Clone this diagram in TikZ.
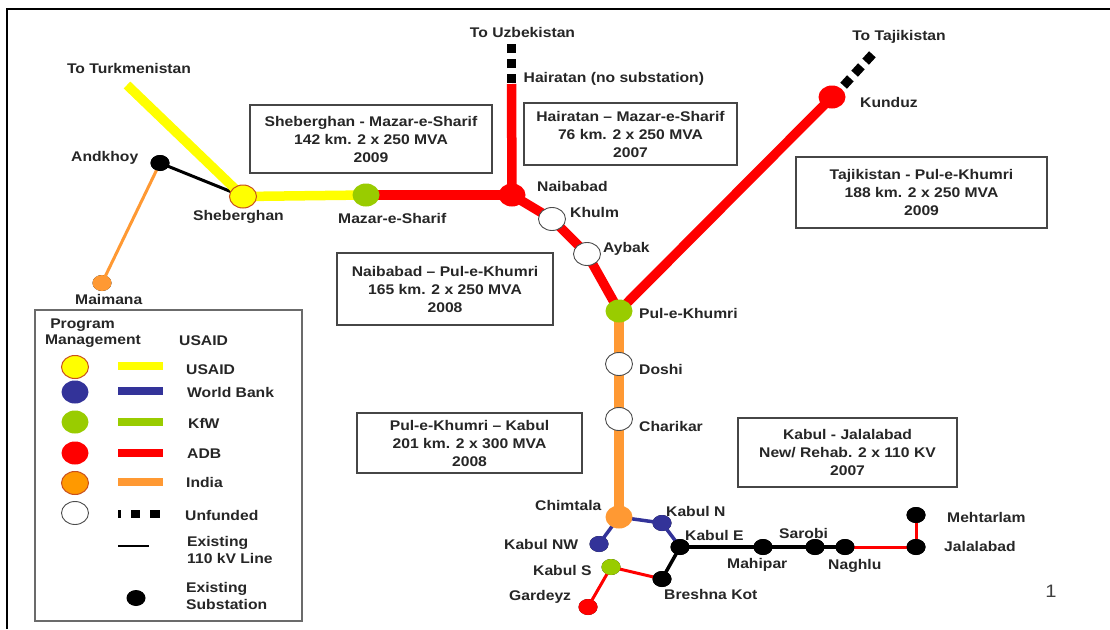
\documentclass[tikz,border=0pt]{standalone}
\usepackage{fontspec}
\setmainfont[FakeStretch=1.12]{Liberation Sans}
\definecolor{cyel}{RGB}{255,255,0}
\definecolor{cred}{RGB}{255,0,0}
\definecolor{cgrn}{RGB}{153,204,0}
\definecolor{cora}{RGB}{255,153,51}
\definecolor{corb}{RGB}{255,153,0}
\definecolor{cblu}{RGB}{51,51,153}
\definecolor{cedge}{RGB}{200,80,30}
\definecolor{cbox}{RGB}{70,70,70}
\usetikzlibrary{shapes.geometric}
\tikzset{
 lab/.style={font=\fontsize{14}{15}\selectfont\bfseries, text=black!85, inner sep=0pt},
 boxed/.style={draw=cbox, line width=1.3pt, fill=white, align=center, inner sep=0pt, font=\fontsize{14}{18}\selectfont\bfseries, text=black!85},
 station/.style={ellipse, inner sep=0pt, minimum width=27pt, minimum height=23pt},
 bl/.style={ellipse, fill=black, inner sep=0pt, minimum width=19pt, minimum height=16pt},
 wht/.style={station, draw=black!70, line width=.9pt, fill=white},
 trunk/.style={line width=9.5pt},
 mid/.style={line width=3.5pt},
 leg/.style={line width=8pt},
}
\begin{document}
\begin{tikzpicture}[x=1pt,y=-1pt]
\useasboundingbox (0,0) rectangle (1110,629);
\fill[white] (0,0) rectangle (1110,629);
\coordinate (fa) at (7,629); \coordinate (fb) at (7,9); \coordinate (fc) at (1110,9);
\draw[line width=2.5pt, black] (fa) -- (fb) -- (fc);

% boxes
\node[boxed, minimum width=242pt, minimum height=68pt] (b1) at (371,139) {Sheberghan - Mazar-e-Sharif\\142 km. 2 x 250 MVA\\2009};
\node[boxed, minimum width=213pt, minimum height=62pt] (b2) at (630.5,134) {Hairatan – Mazar-e-Sharif\\76 km. 2 x 250 MVA\\2007};
\node[boxed, minimum width=251pt, minimum height=71pt] (b3) at (921.5,192.5) {Tajikistan - Pul-e-Khumri\\188 km. 2 x 250 MVA\\2009};
\node[boxed, minimum width=216pt, minimum height=72pt] (b4) at (445,289) {Naibabad – Pul-e-Khumri\\165 km. 2 x 250 MVA\\2008};
\node[boxed, minimum width=225pt, minimum height=60pt] (b5) at (469.5,443) {Pul-e-Khumri – Kabul\\201 km. 2 x 300 MVA\\2008};
\node[boxed, minimum width=219pt, minimum height=69pt] (b6) at (847.5,452.5) {Kabul - Jalalabad\\New/ Rehab. 2 x 110 KV\\2007};

% named points
\coordinate (turk) at (127,85);
\coordinate (hair) at (511.5,84);
\coordinate (uza) at (511.5,83);
\coordinate (uzb) at (511.5,44);
\coordinate (taa) at (843.6,85.7);
\coordinate (tab) at (872.4,54.3);
\node[station] (sheb) at (243,196.5) {};
\node[station] (maz) at (366,195) {};
\node[station] (naib) at (512,195) {};
\node[station] (khulm) at (552,219) {};
\node[station] (aybak) at (587,254) {};
\node[station] (pul) at (619,311) {};
\node[station] (kun) at (832,97) {};
\node[station] (doshi) at (619,364) {};
\node[station] (chari) at (619,419) {};
\node[station] (chim) at (619,517) {};
\node[bl] (knw) at (599,544) {};
\node[bl] (kn) at (662,523) {};
\node[bl] (ke) at (680,547) {};
\node[bl] (bk) at (662,579) {};
\node[bl] (ks) at (611,567) {};
\node[bl] (gar) at (588,607) {};
\node[bl] (mah) at (763,547) {};
\node[bl] (sar) at (815,547) {};
\node[bl] (nag) at (845,547) {};
\node[bl] (jal) at (916,547) {};
\node[bl] (meh) at (916,515) {};
\node[bl] (and) at (160,163) {};
\node[bl] (mai) at (102,283) {};

% lines
\draw[cora, line width=3pt] (and.center) -- (mai.center);
\draw[black, line width=3pt] (and.center) -- (sheb.center);
\draw[trunk, cyel] (turk) -- (sheb.center);
\draw[trunk, cyel] (sheb.center) -- (maz.center);
\draw[trunk, cred] (maz.center) -- (naib.center);
\draw[trunk, cred] (hair) -- (naib.center);
\draw[trunk, cred] (naib.center) -- (khulm.center);
\draw[trunk, cred] (khulm.center) -- (aybak.center);
\draw[trunk, cred] (aybak.center) -- (pul.center);
\draw[trunk, cred] (pul.center) -- (kun.center);
\draw[trunk, cora] (pul.center) -- (doshi.center);
\draw[trunk, cora] (doshi.center) -- (chari.center);
\draw[trunk, cora] (chari.center) -- (chim.center);
\draw[line width=9.5pt, black, dash pattern=on 9pt off 6pt] (uza) -- (uzb);
\draw[line width=9pt, black, dash pattern=on 10pt off 6.3pt] (taa) -- (tab);
\draw[mid, cblu] (chim.center) -- (kn.center);
\draw[mid, cblu] (chim.center) -- (knw.center);
\draw[mid, cblu] (kn.center) -- (ke.center);
\draw[mid, black] (ke.center) -- (mah.center) -- (sar.center) -- (nag.center);
\draw[mid, black] (ke.center) -- (bk.center);
\draw[cred, line width=3pt] (nag.center) -- (jal.center);
\draw[cred, line width=3pt] (jal.center) -- (meh.center);
\draw[cred, line width=3pt] (bk.center) -- (ks.center);
\draw[cred, line width=3pt] (ks.center) -- (gar.center);

% station fills
\node[station, fill=cyel, draw=cedge, line width=1pt] at (sheb) {};
\node[station, fill=cgrn] at (maz) {};
\node[station, fill=cred] at (naib) {};
\node[wht] at (khulm) {};
\node[wht] at (aybak) {};
\node[station, fill=cgrn] at (pul) {};
\node[station, fill=cred] at (kun) {};
\node[wht] at (doshi) {};
\node[wht] at (chari) {};
\node[station, fill=cora] at (chim) {};
\node[bl, fill=cblu] at (knw) {};
\node[bl, fill=cblu] at (kn) {};
\node[bl] at (ke) {};
\node[bl] at (bk) {};
\node[bl, fill=cgrn] at (ks) {};
\node[bl, fill=cred] at (gar) {};
\node[bl] at (mah) {};
\node[bl] at (sar) {};
\node[bl] at (nag) {};
\node[bl] at (jal) {};
\node[bl] at (meh) {};
\node[bl] at (and) {};
\node[bl, fill=cora] at (mai) {};

% map labels
\node[lab] (t1) at (129,68) {To Turkmenistan};
\node[lab] (t2) at (522.5,32) {To Uzbekistan};
\node[lab] (t3) at (899,37) {To Tajikistan};
\node[lab, anchor=west] (t4) at (523.5,79) {Hairatan (no substation)};
\node[lab, anchor=west] (t5) at (860,102) {Kunduz};
\node[lab, anchor=west] (t6) at (71,158) {Andkhoy};
\node[lab, anchor=west] (t7) at (193,217) {Sheberghan};
\node[lab, anchor=west] (t8) at (338,218) {Mazar-e-Sharif};
\node[lab, anchor=west] (t9) at (537,186) {Naibabad};
\node[lab, anchor=west] (t10) at (570,212) {Khulm};
\node[lab, anchor=west] (t11) at (603,249) {Aybak};
\node[lab, anchor=west] (t12) at (639,313) {Pul-e-Khumri};
\node[lab, anchor=west] (t13) at (639,369) {Doshi};
\node[lab, anchor=west] (t14) at (639,426) {Charikar};
\node[lab, anchor=west] (t15) at (75,299) {Maimana};
\node[lab, anchor=west] (t16) at (535,505) {Chimtala};
\node[lab, anchor=west] (t17) at (666,511) {Kabul N};
\node[lab, anchor=west] (t18) at (685,535) {Kabul E};
\node[lab, anchor=west] (t19) at (504,544) {Kabul NW};
\node[lab, anchor=west] (t20) at (533,570) {Kabul S};
\node[lab, anchor=west] (t21) at (509,597) {Gardeyz};
\node[lab, anchor=west] (t22) at (664,594) {Breshna Kot};
\node[lab, anchor=west] (t23) at (727,565) {Mahipar};
\node[lab, anchor=west] (t24) at (779,533) {Sarobi};
\node[lab, anchor=west] (t25) at (828,566) {Naghlu};
\node[lab, anchor=west] (t26) at (947,517) {Mehtarlam};
\node[lab, anchor=west] (t27) at (944,546) {Jalalabad};
\node[font=\fontsize{18}{20}\selectfont, text=black!75, inner sep=0pt] (pg) at (1051,591) {1};

% legend
\node[draw=cbox!80, line width=1.3pt, minimum width=267pt, minimum height=311pt, inner sep=0pt] (lg) at (168.5,465.5) {};
\node[lab] (l1) at (82.5,325) {Program};
\node[lab] (l2) at (93,341) {Management};
\node[lab, anchor=west] (l3) at (179,341) {USAID};
\node[station, fill=cyel, draw=cedge, line width=1pt] (c1) at (75,367) {};
\node[station, fill=cblu] (c2) at (75,392) {};
\node[station, fill=cgrn] (c3) at (75,422) {};
\node[station, fill=cred] (c4) at (75,453) {};
\node[station, fill=corb, draw=cedge, line width=1pt] (c5) at (75,483) {};
\node[wht] (c6) at (75,513) {};
\coordinate (a1) at (118,366); \coordinate (a2) at (163,366);
\coordinate (a3) at (118,391); \coordinate (a4) at (163,391);
\coordinate (a5) at (118,422); \coordinate (a6) at (163,422);
\coordinate (a7) at (118,453); \coordinate (a8) at (163,453);
\coordinate (a9) at (118,482); \coordinate (a10) at (163,482);
\coordinate (a11) at (118,514); \coordinate (a12) at (160,514);
\coordinate (a13) at (118,546); \coordinate (a14) at (149,546);
\draw[leg, cyel] (a1) -- (a2);
\draw[leg, cblu] (a3) -- (a4);
\draw[leg, cgrn] (a5) -- (a6);
\draw[leg, cred] (a7) -- (a8);
\draw[leg, cora] (a9) -- (a10);
\draw[line width=8pt, black, dash pattern=on 3pt off 10pt on 9pt off 10pt on 10pt off 10pt] (a11) -- (a12);
\draw[line width=2.3pt, black] (a13) -- (a14);
\node[ellipse, fill=black, inner sep=0pt, minimum width=19pt, minimum height=16pt] (c7) at (136,598) {};
\node[lab, anchor=west] (l4) at (186,370) {USAID};
\node[lab, anchor=west] (l5) at (187,392) {World Bank};
\node[lab, anchor=west] (l6) at (188,423) {KfW};
\node[lab, anchor=west] (l7) at (187,454) {ADB};
\node[lab, anchor=west] (l8) at (186,482) {India};
\node[lab, anchor=west] (l9) at (185,515) {Unfunded};
\node[lab, anchor=west] (l10) at (187,543) {Existing};
\node[lab, anchor=west] (l11) at (187,558) {110 kV Line};
\node[lab, anchor=west] (l12) at (186,589) {Existing};
\node[lab, anchor=west] (l13) at (186,604) {Substation};
\end{tikzpicture}
\end{document}
